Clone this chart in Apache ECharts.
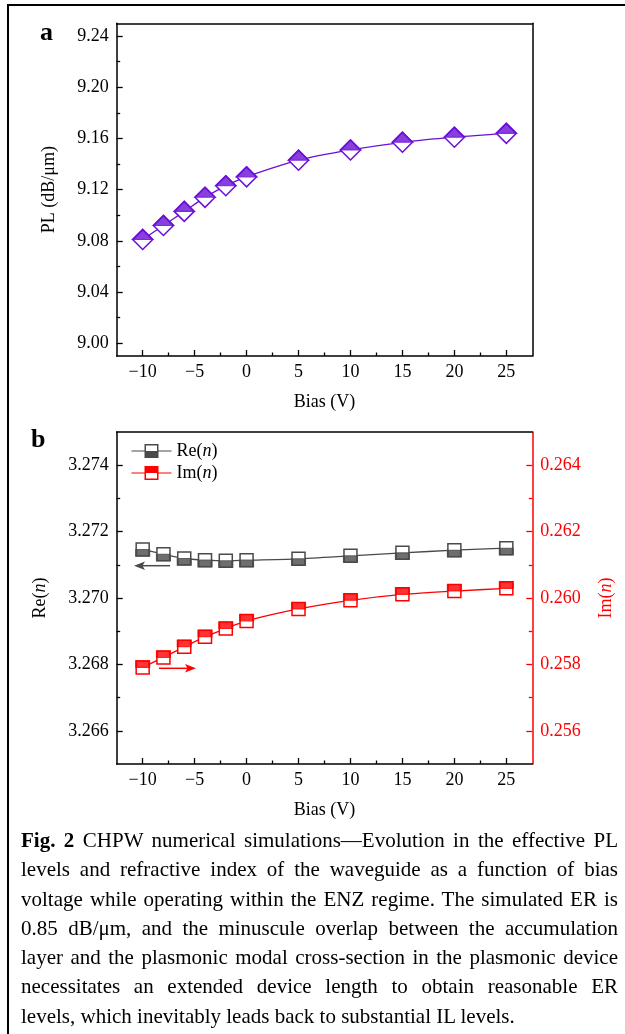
<!DOCTYPE html>
<html><head><meta charset="utf-8">
<script src="https://cdn.jsdelivr.net/npm/echarts@6/dist/echarts.min.js"></script>
<style>
html,body{margin:0;padding:0;width:625px;height:1034px;overflow:hidden;background:#fff;}
#chart{position:absolute;left:0;top:0;width:625px;height:1034px;}
#frame{position:absolute;left:7px;top:4px;width:700px;height:1100px;border-left:2px solid #000;border-top:2px solid #000;pointer-events:none;}
#caption{position:absolute;left:21px;top:826px;width:597px;font-family:'Liberation Serif',serif;font-size:21px;line-height:29.3px;color:#000;}
#caption div{white-space:nowrap;text-align:justify;text-align-last:justify;}
#caption div.last{text-align:left;text-align-last:left;}
</style></head><body>
<div id="chart"></div><div id="frame"></div>
<div id="caption">
<div><b>Fig. 2</b> CHPW numerical simulations—Evolution in the effective PL</div>
<div>levels and refractive index of the waveguide as a function of bias</div>
<div>voltage while operating within the ENZ regime. The simulated ER is</div>
<div>0.85 dB/μm, and the minuscule overlap between the accumulation</div>
<div>layer and the plasmonic modal cross-section in the plasmonic device</div>
<div>necessitates an extended device length to obtain reasonable ER</div>
<div class="last">levels, which inevitably leads back to substantial IL levels.</div>
</div>
<script>
const bias = [-10, -8, -6, -4, -2, 0, 5, 10, 15, 20, 25];
const plValues = [9.081, 9.092, 9.103, 9.114, 9.123, 9.130, 9.143, 9.151, 9.157, 9.161, 9.164];
const reValues = [3.27146, 3.27132, 3.27119, 3.27114, 3.27112, 3.27114, 3.27118, 3.27127, 3.27136, 3.27144, 3.27150];
const imValues = [0.25791, 0.25821, 0.25853, 0.25883, 0.25908, 0.25931, 0.25967, 0.25993, 0.26011, 0.26021, 0.26029];
const xMajor = [-10, -5, 0, 5, 10, 15, 20, 25];
const xMinor = [-7.5, -2.5, 2.5, 7.5, 12.5, 17.5, 22.5];
const plMajor = [9.00, 9.04, 9.08, 9.12, 9.16, 9.20, 9.24];
const plMinor = [9.02, 9.06, 9.10, 9.14, 9.18, 9.22];
const reMajor = [3.266, 3.268, 3.270, 3.272, 3.274];
const reMinor = [3.267, 3.269, 3.271, 3.273];
const imMajor = [0.256, 0.258, 0.260, 0.262, 0.264];
const imMinor = [0.257, 0.259, 0.261, 0.263];
const seriesNames = ['Re(n)', 'Im(n)'];

const FONT = 'Liberation Serif';
const PURPLE = '#6a0fd6';
const GRAY = '#4a4a4a';
const RED = '#ff0000';
const BLACK = '#000';

const fmtX = v => (v < 0 ? '\u2212' + Math.abs(v) : String(v));
const txt = (color) => ({ color, fontFamily: FONT, fontSize: 18 });
const richI = (color) => ({ i: { fontStyle: 'italic', fontFamily: FONT, fontSize: 18, color } });

function xAxes(gi) {
  const base = { type: 'value', gridIndex: gi, min: -12.5, max: 27.5, splitLine: { show: false } };
  return [
    Object.assign({}, base, {
      position: 'bottom',
      axisLine: { onZero: false, lineStyle: { color: BLACK, width: 1.5 } },
      axisTick: { inside: true, length: 6, customValues: xMajor, lineStyle: { color: BLACK, width: 1.3 } },
      axisLabel: Object.assign({ customValues: xMajor, margin: 7, formatter: fmtX }, txt(BLACK)),
      name: 'Bias (V)', nameLocation: 'middle', nameGap: 37, nameTextStyle: txt(BLACK)
    }),
    Object.assign({}, base, {
      position: 'bottom',
      axisLine: { show: false, onZero: false },
      axisTick: { inside: true, length: 3.5, customValues: xMinor, lineStyle: { color: BLACK, width: 1.3 } },
      axisLabel: { show: false }
    }),
    Object.assign({}, base, {
      position: 'top',
      axisLine: { onZero: false, lineStyle: { color: BLACK, width: 1.5 } },
      axisTick: { show: false }, axisLabel: { show: false }
    })
  ];
}

function yPair(gi, pos, min, max, major, minor, color, dec, name, gap) {
  const base = { type: 'value', gridIndex: gi, min, max, position: pos, splitLine: { show: false } };
  return [
    Object.assign({}, base, {
      axisLine: { onZero: false, lineStyle: { color, width: 1.5 } },
      axisTick: { inside: true, length: 6, customValues: major, lineStyle: { color, width: 1.3 } },
      axisLabel: Object.assign({ customValues: major, margin: 8, formatter: v => v.toFixed(dec) }, txt(color)),
      name, nameLocation: 'middle', nameGap: gap,
      nameTextStyle: Object.assign({ rich: richI(color) }, txt(color))
    }),
    Object.assign({}, base, {
      axisLine: { show: false, onZero: false },
      axisTick: { inside: true, length: 3.5, customValues: minor, lineStyle: { color, width: 1.3 } },
      axisLabel: { show: false }
    })
  ];
}

const pairs = vals => bias.map((b, i) => [b, vals[i]]);

const xAxis = xAxes(0).concat(xAxes(1));
const yAxis = []
  .concat(yPair(0, 'left', 8.99, 9.25, plMajor, plMinor, BLACK, 2, 'PL (dB/μm)', 58))      // 0,1
  .concat([{ type: 'value', gridIndex: 0, min: 8.99, max: 9.25, position: 'right', splitLine: { show: false },
             axisLine: { onZero: false, lineStyle: { color: BLACK, width: 1.5 } }, axisTick: { show: false }, axisLabel: { show: false } }]) // 2
  .concat(yPair(1, 'left', 3.265, 3.275, reMajor, reMinor, BLACK, 3, 'Re({i|n})', 67))     // 3,4
  .concat(yPair(1, 'right', 0.255, 0.265, imMajor, imMinor, RED, 3, 'Im({i|n})', 65));     // 5,6

const halfTri = 'path://M0,1 L1,0 L2,1 Z';
const rectPath = 'path://M0,0 L2,0 L2,1 L0,1 Z';
const legendRe = 'path://M0,6.4 L13,6.4 L13,0 L27,0 L27,6.4 L40,6.4 L40,7.6 L27,7.6 L27,14 L13,14 L13,7.6 L0,7.6 Z M14.5,1.5 L14.5,7 L25.5,7 L25.5,1.5 Z';
const legendIm = 'path://M0,6.4 L13,6.4 L13,0 L27,0 L27,6.4 L40,6.4 L40,7.6 L27,7.6 L27,14 L13,14 L13,7.6 L0,7.6 Z M14.5,7 L14.5,12.5 L25.5,12.5 L25.5,7 Z';

const option = {
  animation: false,
  backgroundColor: '#fff',
  grid: [
    { left: 116.7, top: 23.3, width: 415.6, height: 332.7, outerBoundsMode: 'none' },
    { left: 116.7, top: 432, width: 415.6, height: 332, outerBoundsMode: 'none' }
  ],
  xAxis, yAxis,
  legend: {
    orient: 'vertical', left: 131.5, top: 442, itemWidth: 40, itemHeight: 14, itemGap: 4, padding: 0,
    textStyle: Object.assign({ rich: richI(BLACK) }, txt(BLACK)),
    formatter: n => n.replace('(n)', '({i|n})'),
    data: [
      { name: seriesNames[0], icon: legendRe, itemStyle: { color: GRAY, borderWidth: 0 } },
      { name: seriesNames[1], icon: legendIm, itemStyle: { color: RED, borderWidth: 0 } }
    ]
  },
  series: [
    { name: 'PL', type: 'line', xAxisIndex: 0, yAxisIndex: 0, data: pairs(plValues), smooth: 0.3,
      symbol: 'diamond', symbolSize: 20, lineStyle: { color: PURPLE, width: 1.3 },
      itemStyle: { color: '#fff', borderColor: PURPLE, borderWidth: 1.5 }, z: 2 },
    { name: 'PL fill', type: 'scatter', xAxisIndex: 0, yAxisIndex: 0, data: pairs(plValues),
      symbol: halfTri, symbolSize: [20, 10], symbolOffset: [0, -5], symbolKeepAspect: false,
      itemStyle: { color: PURPLE, borderColor: PURPLE, borderWidth: 1.5 }, z: 3 },
    { name: seriesNames[0], type: 'line', xAxisIndex: 3, yAxisIndex: 3, data: pairs(reValues), smooth: 0.2,
      symbol: 'rect', symbolSize: 13, lineStyle: { color: GRAY, width: 1.3 },
      itemStyle: { color: '#fff', borderColor: GRAY, borderWidth: 1.5 }, z: 2 },
    { name: 'Re fill', type: 'scatter', xAxisIndex: 3, yAxisIndex: 3, data: pairs(reValues),
      symbol: rectPath, symbolSize: [13, 6.5], symbolOffset: [0, 3.25], symbolKeepAspect: false,
      itemStyle: { color: GRAY, borderColor: GRAY, borderWidth: 1.5 }, z: 3 },
    { name: seriesNames[1], type: 'line', xAxisIndex: 3, yAxisIndex: 5, data: pairs(imValues), smooth: 0.2,
      symbol: 'rect', symbolSize: 13, lineStyle: { color: RED, width: 1.3 },
      itemStyle: { color: '#fff', borderColor: RED, borderWidth: 1.5 }, z: 2 },
    { name: 'Im fill', type: 'scatter', xAxisIndex: 3, yAxisIndex: 5, data: pairs(imValues),
      symbol: rectPath, symbolSize: [13, 6.5], symbolOffset: [0, -3.25], symbolKeepAspect: false,
      itemStyle: { color: RED, borderColor: RED, borderWidth: 1.5 }, z: 3 }
  ],
  graphic: [
    { type: 'text', x: 40, y: 33, style: { text: 'a', font: 'bold 26px "Liberation Serif"', fill: BLACK, verticalAlign: 'middle' } },
    { type: 'text', x: 31, y: 440, style: { text: 'b', font: 'bold 26px "Liberation Serif"', fill: BLACK, verticalAlign: 'middle' } },
    { type: 'line', shape: { x1: 170, y1: 565.7, x2: 141, y2: 565.7 }, style: { stroke: GRAY, lineWidth: 1.5 } },
    { type: 'polygon', shape: { points: [[134, 565.7], [145, 561.5], [142.5, 565.7], [145, 569.9]] }, style: { fill: GRAY } },
    { type: 'line', shape: { x1: 159, y1: 668.3, x2: 189, y2: 668.3 }, style: { stroke: RED, lineWidth: 1.5 } },
    { type: 'polygon', shape: { points: [[196, 668.3], [185, 664.1], [187.5, 668.3], [185, 672.5]] }, style: { fill: RED } }
  ]
};

const chart = echarts.init(document.getElementById('chart'), null, { renderer: 'canvas' });
chart.setOption(option);
</script>
</body></html>
